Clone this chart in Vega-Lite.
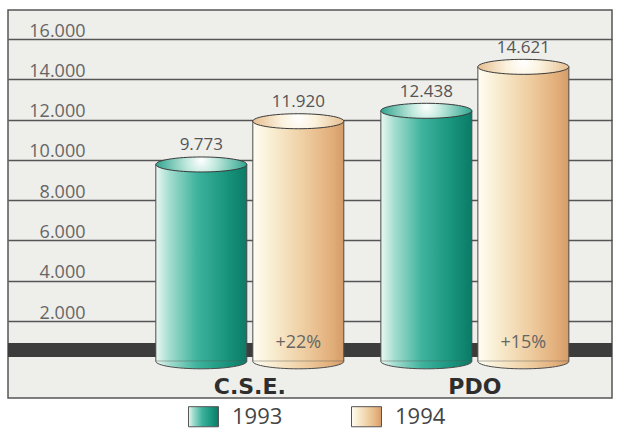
{
  "$schema": "https://vega.github.io/schema/vega-lite/v6.json",
  "width": 604,
  "height": 388,
  "autosize": "none",
  "padding": {"left": 8, "top": 10, "right": 9, "bottom": 33},
  "background": "white",
  "config": {"view": {"fill": "#eeeeeb", "stroke": "#555555", "strokeWidth": 1.5}},
  "data": {
    "values": [
      {"group": "C.S.E.", "year": "1993", "value": 9773, "label": "9.773", "pct": ""},
      {"group": "C.S.E.", "year": "1994", "value": 11920, "label": "11.920", "pct": "+22%"},
      {"group": "PDO", "year": "1993", "value": 12438, "label": "12.438", "pct": ""},
      {"group": "PDO", "year": "1994", "value": 14621, "label": "14.621", "pct": "+15%"}
    ]
  },
  "encoding": {
    "x": {
      "field": "group", "type": "nominal", "sort": ["C.S.E.", "PDO"],
      "scale": {"paddingInner": 0, "paddingOuter": 0.342, "align": 0.84},
      "axis": {"title": null, "domain": false, "ticks": false, "grid": false, "labelAngle": 0,
        "labelPadding": -22, "labelFont": "DejaVu Sans", "labelFontWeight": "bold", "labelFontSize": 22, "labelColor": "#2e2e2e"}
    },
    "xOffset": {"field": "year", "type": "nominal", "scale": {"paddingInner": 0.062, "paddingOuter": 0.191}}
  },
  "layer": [
    {
      "mark": {"type": "rule", "color": "#3c3c3c", "strokeWidth": 14},
      "encoding": {
        "y": {
          "datum": 560, "type": "quantitative",
          "scale": {"domain": [-1822, 17443], "nice": false, "zero": false},
          "axis": {"title": null, "domain": false, "ticks": false, "grid": true,
            "values": [2000, 4000, 6000, 8000, 10000, 12000, 14000, 16000],
            "gridColor": "#555555", "gridWidth": 1.5, "gridOpacity": 1,
            "labelExpr": "replace(format(datum.value, ','), ',', '.')",
            "labelAlign": "right", "labelBaseline": "alphabetic", "labelPadding": -77, "labelOffset": -3,
            "labelFont": "Open Sans", "labelFontSize": 18, "labelColor": "#666666"}
        },
        "x": null,
        "xOffset": null
      }
    },
    {
      "mark": {"type": "bar", "stroke": "#4a4a4a", "strokeWidth": 1},
      "encoding": {
        "y": {"field": "value", "type": "quantitative"},
        "y2": {"datum": 0},
        "fill": {
          "field": "year", "type": "nominal",
          "scale": {"domain": ["1993", "1994"], "range": [
            {"expr": "{gradient: 'linear', x1: 0, y1: 0, x2: 1, y2: 0, stops: [{offset: 0, color: '#eaf7f2'}, {offset: 0.15, color: '#a4ddcf'}, {offset: 0.45, color: '#3eb39d'}, {offset: 0.8, color: '#16927b'}, {offset: 1, color: '#0b7a66'}]}"},
            {"expr": "{gradient: 'linear', x1: 0, y1: 0, x2: 1, y2: 0, stops: [{offset: 0, color: '#fffdf3'}, {offset: 0.2, color: '#f9eed3'}, {offset: 0.55, color: '#efcfa3'}, {offset: 0.85, color: '#e3b07c'}, {offset: 1, color: '#d49c68'}]}"}
          ]},
          "legend": {"title": null, "orient": "none", "legendX": 180, "legendY": 391, "direction": "horizontal",
            "symbolType": "M -1 -0.67 H 1 V 0.67 H -1 Z", "symbolSize": 900, "symbolStrokeColor": "#555555", "symbolStrokeWidth": 1, "symbolOpacity": 1,
            "labelFont": "Open Sans", "labelFontSize": 22, "labelColor": "#444444", "labelOffset": 13, "columnPadding": 66}
        }
      }
    },
    {
      "mark": {"type": "point", "shape": "M -1 0 A 1 0.165 0 0 0 1 0", "size": 8281, "filled": true, "opacity": 1, "stroke": "#4a4a4a", "strokeWidth": 1},
      "encoding": {
        "y": {"datum": 0},
        "fill": {"field": "year", "type": "nominal", "legend": null}
      }
    },
    {
      "mark": {"type": "point", "shape": "M -1 0 A 1 0.165 0 1 1 1 0 A 1 0.165 0 1 1 -1 0 Z", "size": 8281, "filled": true, "opacity": 1, "stroke": "#3a3a3a", "strokeWidth": 1},
      "encoding": {
        "y": {"field": "value", "type": "quantitative"},
        "fill": {
          "condition": {"test": "datum.year == '1993'", "value":
            {"gradient": "radial", "x1": 0.5, "y1": 0.45, "r1": 0, "x2": 0.5, "y2": 0.5, "r2": 0.55, "stops": [
              {"offset": 0, "color": "#ffffff"}, {"offset": 0.3, "color": "#bfe8dc"}, {"offset": 1, "color": "#1d9b85"}]}},
          "value":
            {"gradient": "radial", "x1": 0.5, "y1": 0.45, "r1": 0, "x2": 0.5, "y2": 0.5, "r2": 0.55, "stops": [
              {"offset": 0, "color": "#ffffff"}, {"offset": 0.35, "color": "#fbf1dc"}, {"offset": 1, "color": "#e3b785"}]}
        }
      }
    },
    {
      "mark": {"type": "text", "dy": -14, "baseline": "alphabetic", "font": "Open Sans", "fontSize": 17, "color": "#555555"},
      "encoding": {
        "y": {"field": "value", "type": "quantitative"},
        "text": {"field": "label"}
      }
    },
    {
      "transform": [{"filter": "datum.pct != ''"}],
      "mark": {"type": "text", "baseline": "middle", "font": "Open Sans", "fontSize": 18, "color": "#666666"},
      "encoding": {
        "y": {"datum": 900},
        "text": {"field": "pct"}
      }
    }
  ]
}
